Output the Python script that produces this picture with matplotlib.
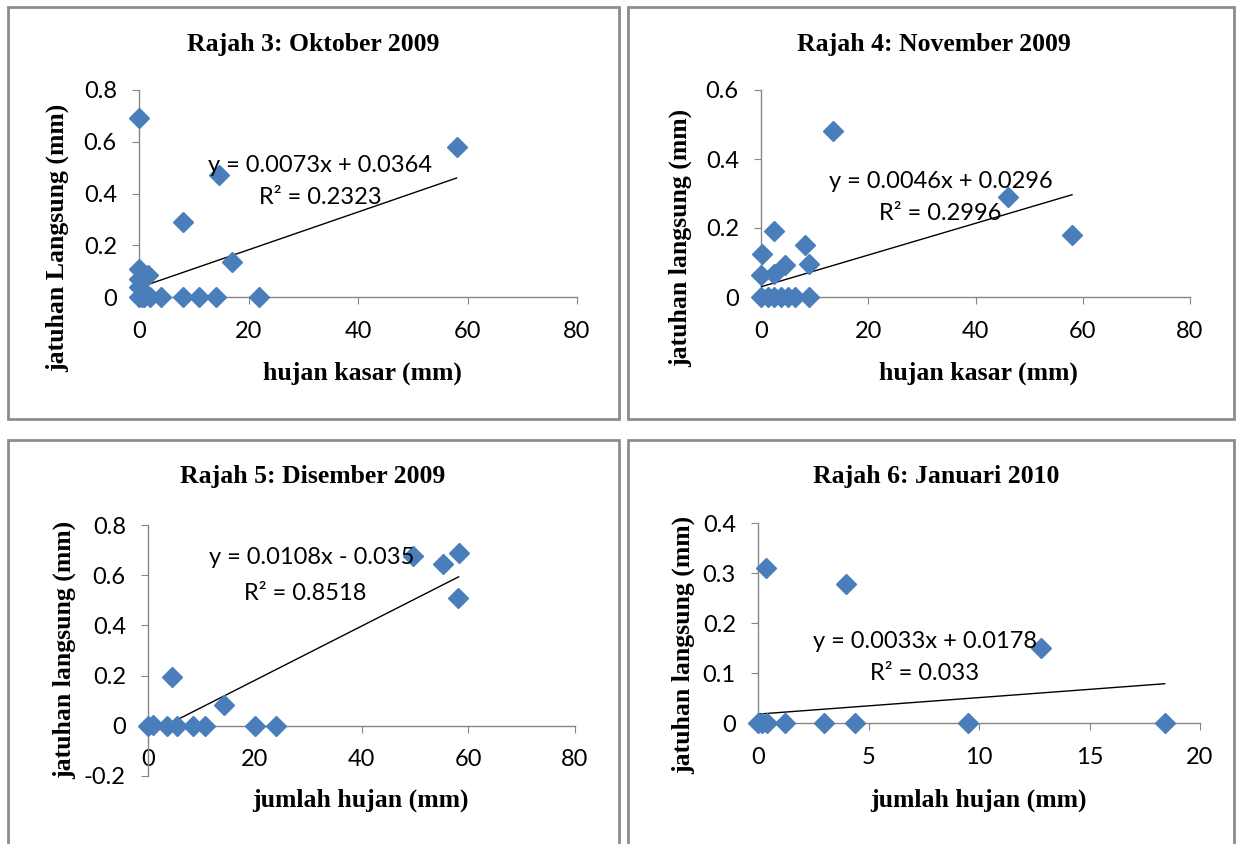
import numpy as np
import matplotlib
matplotlib.use('Agg')
import matplotlib.pyplot as plt
from matplotlib.patches import Rectangle
from matplotlib.ticker import FuncFormatter

# Rajah 3: Oktober 2009
okt_x = [0, 0, 0, 1.6, 0, 14.7, 8, 16.9, 58, 0, 1, 2, 4, 8, 11, 14, 22, 0.5]
okt_y = [0.69, 0.11, 0.07, 0.085, 0.04, 0.47, 0.29, 0.135, 0.58, 0, 0, 0, 0, 0, 0, 0, 0, 0]
okt_fit = (0.0073, 0.0364)

# Rajah 4: November 2009
nov_x = [13.5, 46, 58, 2.5, 0.2, 8.2, 9, 0, 2.4, 4.4, 0, 1.3, 2.5, 3.8, 5, 6.3, 9]
nov_y = [0.48, 0.29, 0.18, 0.19, 0.125, 0.15, 0.095, 0.065, 0.067, 0.093, 0, 0, 0, 0, 0, 0, 0]
nov_fit = (0.0046, 0.0296)

# Rajah 5: Disember 2009
dis_x = [49.7, 55.3, 58.2, 58, 4.5, 14.3, 0, 1, 3.6, 5.4, 8.4, 10.7, 20, 24]
dis_y = [0.676, 0.644, 0.688, 0.508, 0.196, 0.084, 0, 0.005, 0, 0, 0, 0, 0, 0]
dis_fit = (0.0108, -0.035)

# Rajah 6: Januari 2010
jan_x = [0.36, 4.0, 12.8, 0, 0.2, 0.4, 1.2, 3.0, 4.4, 9.5, 18.4]
jan_y = [0.31, 0.278, 0.15, 0, 0, 0, 0, 0, 0, 0, 0]
jan_fit = (0.0033, 0.0178)

W, H = 1241, 844
fig = plt.figure(figsize=(W / 100, H / 100), dpi=100)
fig.patch.set_facecolor('white')

def px(x, y):
    return x / W, 1 - y / H

# bingkai kelabu
for (x0, y0, x1, y1) in [(8, 7, 619, 419), (628, 7, 1234, 419),
                         (8, 440, 619, 850), (628, 440, 1234, 850)]:
    fig.patches.append(Rectangle(px(x0, y1), (x1 - x0) / W, (y1 - y0) / H,
                                 transform=fig.transFigure, fill=False,
                                 edgecolor='#8c8c8c', linewidth=2))

blue = '#4a7ebb'
axis_col = '#868686'
serif = 'Liberation Serif'
sans = 'Lato'

panels = [
    dict(x=okt_x, y=okt_y, fit=okt_fit, box=(139, 90, 577, 297), xlim=(0, 80), xt=[0, 20, 40, 60, 80],
         ylim=(0, 0.8), yt=[0, 0.2, 0.4, 0.6, 0.8], title='Rajah 3: Oktober 2009', tpos=(313, 45),
         xl='hujan kasar (mm)', xlpos=(362, 373), yl='jatuhan Langsung (mm)', ylpos=(57, 238),
         eq=['y = 0.0073x + 0.0364', 'R² = 0.2323'], eqpos=[(320, 166), (320, 197)]),
    dict(x=nov_x, y=nov_y, fit=nov_fit, box=(761, 90, 1190, 297), xlim=(0, 80), xt=[0, 20, 40, 60, 80],
         ylim=(0, 0.6), yt=[0, 0.2, 0.4, 0.6], title='Rajah 4: November 2009', tpos=(934, 45),
         xl='hujan kasar (mm)', xlpos=(978, 373), yl='jatuhan langsung (mm)', ylpos=(680, 238),
         eq=['y = 0.0046x + 0.0296', 'R² = 0.2996'], eqpos=[(941, 182), (940, 213)]),
    dict(x=dis_x, y=dis_y, fit=dis_fit, box=(148, 525, 575, 776), xlim=(0, 80), xt=[0, 20, 40, 60, 80],
         ylim=(-0.2, 0.8), yt=[-0.2, 0, 0.2, 0.4, 0.6, 0.8], title='Rajah 5: Disember 2009', tpos=(313, 476),
         xl='jumlah hujan (mm)', xlpos=(360, 800), yl='jatuhan langsung (mm)', ylpos=(64, 650),
         eq=['y = 0.0108x - 0.035', 'R² = 0.8518'], eqpos=[(312, 558), (305, 594)]),
    dict(x=jan_x, y=jan_y, fit=jan_fit, box=(758, 523, 1200, 723), xlim=(0, 20), xt=[0, 5, 10, 15, 20],
         ylim=(0, 0.4), yt=[0, 0.1, 0.2, 0.3, 0.4], title='Rajah 6: Januari 2010', tpos=(936, 476),
         xl='jumlah hujan (mm)', xlpos=(978, 800), yl='jatuhan langsung (mm)', ylpos=(683, 645),
         eq=['y = 0.0033x + 0.0178', 'R² = 0.033'], eqpos=[(925, 641), (925, 673)]),
]

for p in panels:
    l, t, r, b = p['box']
    ax = fig.add_axes([l / W, 1 - b / H, (r - l) / W, (b - t) / H])
    ax.set_facecolor('none')
    ax.set_xlim(*p['xlim'])
    ax.set_ylim(*p['ylim'])
    ax.set_xticks(p['xt'])
    ax.set_yticks(p['yt'])
    ax.xaxis.set_major_formatter(FuncFormatter(lambda v, pos: '%g' % v))
    ax.yaxis.set_major_formatter(FuncFormatter(lambda v, pos: '%g' % round(v, 2)))
    for s in ['top', 'right']:
        ax.spines[s].set_visible(False)
    for s in ['left', 'bottom']:
        ax.spines[s].set_color(axis_col)
        ax.spines[s].set_linewidth(1)
    ax.spines['bottom'].set_position(('data', 0))
    ax.tick_params(axis='both', direction='out', length=5, color=axis_col, labelsize=17)
    ax.tick_params(axis='x', pad=12)
    ax.tick_params(axis='y', pad=11)
    for lab in ax.get_xticklabels() + ax.get_yticklabels():
        lab.set_fontfamily(sans)

    # garis trend
    m, c = p['fit']
    xs = np.array([min(p['x']), max(p['x'])])
    ax.plot(xs, m * xs + c, color='black', linewidth=1, zorder=3)
    ax.plot(p['x'], p['y'], linestyle='none', marker='D', markersize=10,
            color=blue, markeredgecolor=blue, zorder=4, clip_on=False)

    fig.text(*px(*p['tpos']), p['title'], ha='center', va='center',
             fontfamily=serif, fontweight='bold', fontsize=18.5)
    fig.text(*px(*p['xlpos']), p['xl'], ha='center', va='center',
             fontfamily=serif, fontweight='bold', fontsize=18.5)
    fig.text(*px(*p['ylpos']), p['yl'], ha='center', va='center', rotation=90,
             fontfamily=serif, fontweight='bold', fontsize=18.5)
    for txt, pos in zip(p['eq'], p['eqpos']):
        fig.text(*px(*pos), txt, ha='center', va='center', fontfamily=sans, fontsize=17)

fig.savefig('out.png', dpi=100)
